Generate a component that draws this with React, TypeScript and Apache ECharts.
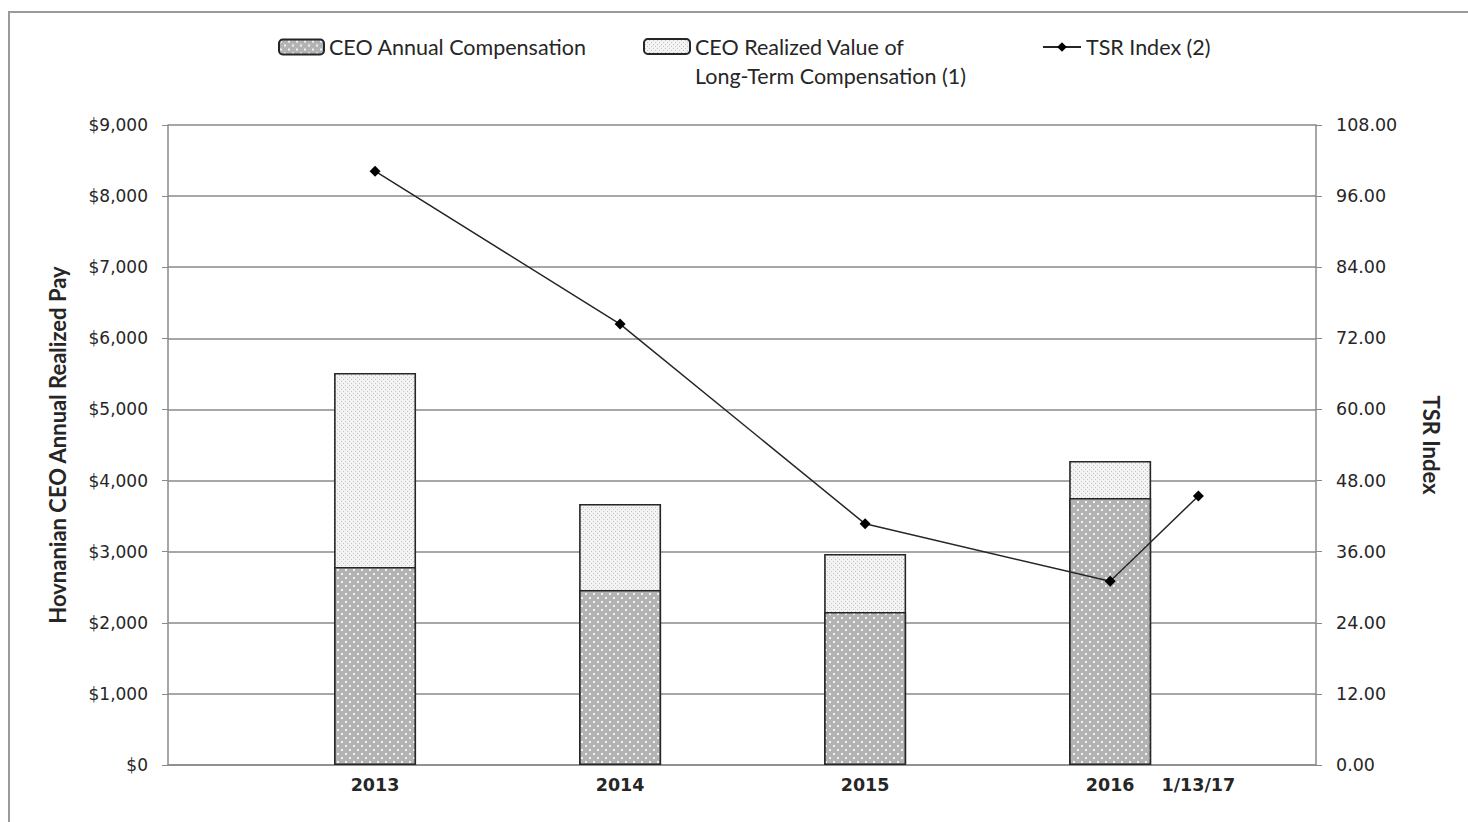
import React, { useEffect, useRef } from "react";
import * as echarts from "echarts";

const years = [2013, 2014, 2015, 2016];
const annualComp = [2785, 2461, 2152, 3755];
const longTermComp = [2728, 1210, 816, 521];
const tsrX = [2013, 2014, 2015, 2016, 2016.36];
const tsrIndex = [100.2, 74.4, 40.7, 31.0, 45.4];
const xTickValues = [2013, 2014, 2015, 2016, 2016.36];
const xTickLabels = ["2013", "2014", "2015", "2016", "1/13/17"];

function makePattern(size: number, bg: string, dot: string, dots: [number, number, number][]) {
  const c = document.createElement("canvas");
  c.width = size;
  c.height = size;
  const ctx = c.getContext("2d")!;
  ctx.fillStyle = bg;
  ctx.fillRect(0, 0, size, size);
  ctx.fillStyle = dot;
  dots.forEach(([x, y, s]) => ctx.fillRect(x, y, s, s));
  return c.toDataURL();
}

export default function App() {
  const ref = useRef<HTMLDivElement>(null);
  useEffect(() => {
    document.body.style.margin = "0";
    const chart = echarts.init(ref.current!, undefined, { renderer: "svg" });
    const darkPat = makePattern(8, "#b3b3b3", "#f2f2f2", [[1, 1, 2], [5, 5, 2]]);
    const lightPat = makePattern(4, "#f3f3f3", "#c4c4c4", [[1, 1, 1], [3, 3, 1]]);
    const darkFill: any = { image: darkPat, repeat: "repeat" };
    const lightFill: any = { image: lightPat, repeat: "repeat" };
    const grey = "#8a8a8a";
    const txt = "#262626";
    const legendFont = { fontFamily: "Lato", fontSize: 21.5, color: txt };
    const totals = years.map((_, i) => annualComp[i] + longTermComp[i]);

    chart.setOption({
      animation: false,
      backgroundColor: "#ffffff",
      graphic: [
        {
          type: "rect",
          shape: { x: 9, y: 12, width: 1500, height: 900 },
          style: { fill: "none", stroke: "#9a9a9a", lineWidth: 2 },
          silent: true,
        },
      ],
      legend: [
        {
          data: ["CEO Annual Compensation"],
          left: 273,
          top: 31,
          itemWidth: 45,
          itemHeight: 15,
          textStyle: legendFont,
        },
        {
          data: ["CEO Realized Value of\nLong-Term Compensation (1)"],
          left: 638,
          top: -2,
          itemWidth: 46,
          itemHeight: 15,
          formatter: (n: string) => " \n" + n,
          textStyle: { ...legendFont, lineHeight: 29 },
        },
        {
          data: ["TSR Index (2)"],
          left: 1037,
          top: 31,
          itemWidth: 38,
          itemHeight: 12,
          textStyle: legendFont,
        },
      ],
      grid: { left: 168, right: 152, top: 125, bottom: 57, containLabel: false },
      xAxis: {
        type: "value",
        min: 2012.155,
        max: 2016.84,
        axisLine: { show: true, lineStyle: { color: grey, width: 1.5 } },
        axisTick: { show: false },
        splitLine: { show: false },
        axisLabel: {
          customValues: xTickValues,
          formatter: (v: number) => {
            let best = 0;
            xTickValues.forEach((t, i) => {
              if (Math.abs(t - v) < Math.abs(xTickValues[best] - v)) best = i;
            });
            return xTickLabels[best];
          },
          fontFamily: "DejaVu Sans",
          fontWeight: "bold",
          fontSize: 17.5,
          color: txt,
          margin: 11,
        },
      },
      yAxis: [
        {
          type: "value",
          min: 0,
          max: 9000,
          interval: 1000,
          name: "Hovnanian CEO Annual Realized Pay",
          nameLocation: "middle",
          nameGap: 100,
          nameRotate: 90,
          nameTextStyle: { fontFamily: "Lato", fontWeight: "bold", fontSize: 22, color: txt },
          axisLine: { show: true, lineStyle: { color: grey, width: 1.5 } },
          axisTick: { show: true, length: 6, lineStyle: { color: grey } },
          splitLine: { show: true, lineStyle: { color: grey, width: 1.5 } },
          axisLabel: {
            formatter: (v: number) => "$" + v.toLocaleString("en-US"),
            fontFamily: "DejaVu Sans",
            fontSize: 17,
            color: txt,
            margin: 20,
          },
        },
        {
          type: "value",
          min: 0,
          max: 108,
          interval: 12,
          name: "TSR Index",
          nameLocation: "middle",
          nameGap: 104,
          nameRotate: -90,
          nameTextStyle: { fontFamily: "Lato", fontWeight: "bold", fontSize: 22, color: txt },
          axisLine: { show: true, lineStyle: { color: grey, width: 1.5 } },
          axisTick: { show: true, length: 6, lineStyle: { color: grey } },
          splitLine: { show: false },
          axisLabel: {
            formatter: (v: number) => v.toFixed(2),
            fontFamily: "DejaVu Sans",
            fontSize: 17.5,
            color: txt,
            margin: 20,
          },
        },
      ],
      series: [
        {
          name: "CEO Realized Value of\nLong-Term Compensation (1)",
          type: "bar",
          barWidth: 82,
          barGap: "-100%",
          z: 2,
          data: years.map((y, i) => [y, totals[i]]),
          itemStyle: { color: lightFill, borderColor: "#262626", borderWidth: 1.6 },
        },
        {
          name: "CEO Annual Compensation",
          type: "bar",
          barWidth: 82,
          barGap: "-100%",
          z: 3,
          data: years.map((y, i) => [y, annualComp[i]]),
          itemStyle: { color: darkFill, borderColor: "#262626", borderWidth: 1.6 },
        },
        {
          name: "TSR Index (2)",
          type: "line",
          yAxisIndex: 1,
          z: 5,
          data: tsrX.map((x, i) => [x, tsrIndex[i]]),
          symbol: "diamond",
          symbolSize: 11,
          lineStyle: { color: "#262626", width: 1.5 },
          itemStyle: { color: "#000000" },
        },
      ],
    });
    return () => chart.dispose();
  }, []);
  return <div ref={ref} style={{ width: 1468, height: 822 }} />;
}
